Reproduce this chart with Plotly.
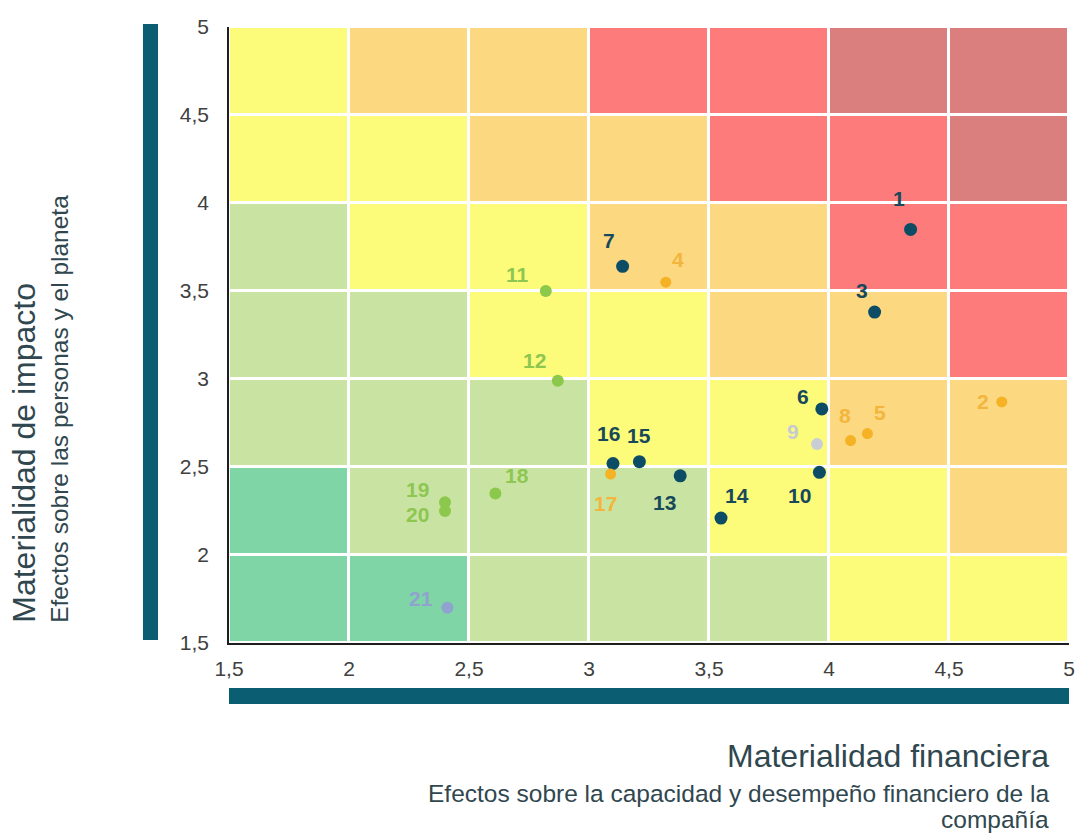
import plotly.graph_objects as go

# ---------------- data ----------------
tick_values = [1.5, 2, 2.5, 3, 3.5, 4, 4.5, 5]
tick_labels = ["1,5", "2", "2,5", "3", "3,5", "4", "4,5", "5"]

cell_centers_x = [1.75, 2.25, 2.75, 3.25, 3.75, 4.25, 4.75]
cell_centers_y = [1.75, 2.25, 2.75, 3.25, 3.75, 4.25, 4.75]
# materiality level of each cell (rows bottom -> top)
cell_levels = [
    [0, 0, 1, 1, 1, 2, 2],
    [0, 1, 1, 1, 2, 2, 3],
    [1, 1, 1, 2, 2, 3, 3],
    [1, 1, 2, 2, 3, 3, 4],
    [1, 2, 2, 3, 3, 4, 4],
    [2, 2, 3, 3, 4, 4, 5],
    [2, 3, 3, 4, 4, 5, 5],
]

topic_ids = [1, 2, 3, 4, 5, 6, 7, 8, 9, 10, 11, 12, 13, 14, 15, 16, 17, 18, 19, 20, 21]
financial = [4.34, 4.72, 4.19, 3.32, 4.16, 3.97, 3.14, 4.09, 3.95, 3.96, 2.82,
             2.87, 3.38, 3.55, 3.21, 3.10, 3.09, 2.61, 2.40, 2.40, 2.41]
impact = [3.85, 2.87, 3.38, 3.55, 2.69, 2.83, 3.64, 2.65, 2.63, 2.47, 3.50,
          2.99, 2.45, 2.21, 2.53, 2.52, 2.46, 2.35, 2.30, 2.25, 1.70]
topic_group = [1, 2, 1, 2, 2, 1, 1, 2, 4, 1, 3, 3, 1, 1, 1, 1, 2, 3, 3, 3, 5]

x_title = "Materialidad financiera"
x_subtitle_1 = "Efectos sobre la capacidad y desempeño financiero de la"
x_subtitle_2 = "compañía"
y_title = "Materialidad de impacto"
y_subtitle = "Efectos sobre las personas y el planeta"

# ---------------- styles ----------------
level_colors = ["#7fd5a5", "#c9e4a2", "#fdfc7a", "#fcd880", "#fe7b7b", "#db7e7e"]
group_style = {
    1: dict(color="#0d4c65", text="#17495a", size=13),
    2: dict(color="#f4b224", text="#f3b53c", size=11),
    3: dict(color="#8cc84b", text="#8dc651", size=12),
    4: dict(color="#c9cdd6", text="#c6cbd2", size=12),
    5: dict(color="#8fa3cf", text="#8fa2d0", size=12),
}
# label offsets in pixels (dx right, dy down) relative to each point
label_offset = {
    1: (-12, -31), 2: (-19, 0), 3: (-13, -22), 4: (12, -23), 5: (13, -21),
    6: (-19, -12), 7: (-14, -26), 8: (-6, -25), 9: (-24, -13), 10: (-20, 23),
    11: (-28, -17), 12: (-23, -20), 13: (-16, 27), 14: (16, -23), 15: (0, -26),
    16: (-5, -30), 17: (-5, 29), 18: (22, -18), 19: (-28, -13), 20: (-28, 3),
    21: (-26, -9),
}

n = len(level_colors)
colorscale = []
for i, c in enumerate(level_colors):
    colorscale.append([i / n, c])
    colorscale.append([(i + 1) / n, c])

fig = go.Figure()
fig.add_trace(go.Heatmap(
    x=cell_centers_x, y=cell_centers_y, z=cell_levels,
    colorscale=colorscale, zmin=-0.5, zmax=n - 0.5,
    xgap=3, ygap=3, showscale=False, hoverinfo="skip",
))

fig.add_trace(go.Scatter(
    x=financial, y=impact, mode="markers", opacity=1,
    marker=dict(
        color=[group_style[g]["color"] for g in topic_group],
        size=[group_style[g]["size"] for g in topic_group],
        opacity=1,
        line=dict(width=0),
    ),
    text=[str(t) for t in topic_ids],
    hovertemplate="%{text}: (%{x}, %{y})<extra></extra>",
    showlegend=False,
))

FONT = "Liberation Sans, Arial, sans-serif"
annotations = []
for t, xv, yv, g in zip(topic_ids, financial, impact, topic_group):
    dx, dy = label_offset[t]
    annotations.append(dict(
        x=xv, y=yv, xref="x", yref="y", text=f"<b>{t}</b>", showarrow=False,
        xshift=dx, yshift=-dy,
        font=dict(family=FONT, size=21, color=group_style[g]["text"]),
    ))

title_color = "#30474f"
annotations += [
    dict(x=0.979, y=-0.184, xref="paper", yref="paper", text=x_title, showarrow=False,
         xanchor="right", yanchor="middle", font=dict(family=FONT, size=32, color=title_color)),
    dict(x=0.979, y=-0.2445, xref="paper", yref="paper", text=x_subtitle_1, showarrow=False,
         xanchor="right", yanchor="middle", font=dict(family=FONT, size=24.5, color=title_color)),
    dict(x=0.979, y=-0.287, xref="paper", yref="paper", text=x_subtitle_2, showarrow=False,
         xanchor="right", yanchor="middle", font=dict(family=FONT, size=24.5, color=title_color)),
    dict(x=-0.245, y=0.03, xref="paper", yref="paper", text=y_title, showarrow=False,
         textangle=-90, xanchor="center", yanchor="bottom",
         font=dict(family=FONT, size=32, color=title_color)),
    dict(x=-0.202, y=0.03, xref="paper", yref="paper", text=y_subtitle, showarrow=False,
         textangle=-90, xanchor="center", yanchor="bottom",
         font=dict(family=FONT, size=24.5, color=title_color)),
]

bar_color = "#0b5d71"
shapes = [
    dict(type="rect", xref="paper", yref="paper", x0=-0.1024, x1=-0.0845, y0=0.005, y1=1.005,
         fillcolor=bar_color, line=dict(width=0)),
    dict(type="rect", xref="paper", yref="paper", x0=0, x1=1, y0=-0.099, y1=-0.073,
         fillcolor=bar_color, line=dict(width=0)),
]

fig.update_layout(
    width=1077, height=834, autosize=False,
    margin=dict(l=229, r=8, t=27, b=191),
    paper_bgcolor="white", plot_bgcolor="white",
    font=dict(family=FONT, color="#404040"),
    annotations=annotations, shapes=shapes,
    showlegend=False,
)
fig.update_xaxes(
    range=[1.5, 5], tickvals=tick_values, ticktext=tick_labels, automargin=False,
    showgrid=False, zeroline=False, showline=True, linecolor="#1e1e1e", linewidth=1.5,
    ticks="outside", ticklen=6, tickcolor="rgba(0,0,0,0)",
    tickfont=dict(size=21, color="#404040"),
)
fig.update_yaxes(
    range=[1.5, 5], tickvals=tick_values, ticktext=tick_labels, automargin=False,
    showgrid=False, zeroline=False, showline=True, linecolor="#1e1e1e", linewidth=1.5,
    ticks="outside", ticklen=14, tickcolor="rgba(0,0,0,0)",
    tickfont=dict(size=21, color="#404040"),
)

fig.write_html("out.html", config={"displayModeBar": False},
               post_script="document.body.style.margin='0';")
